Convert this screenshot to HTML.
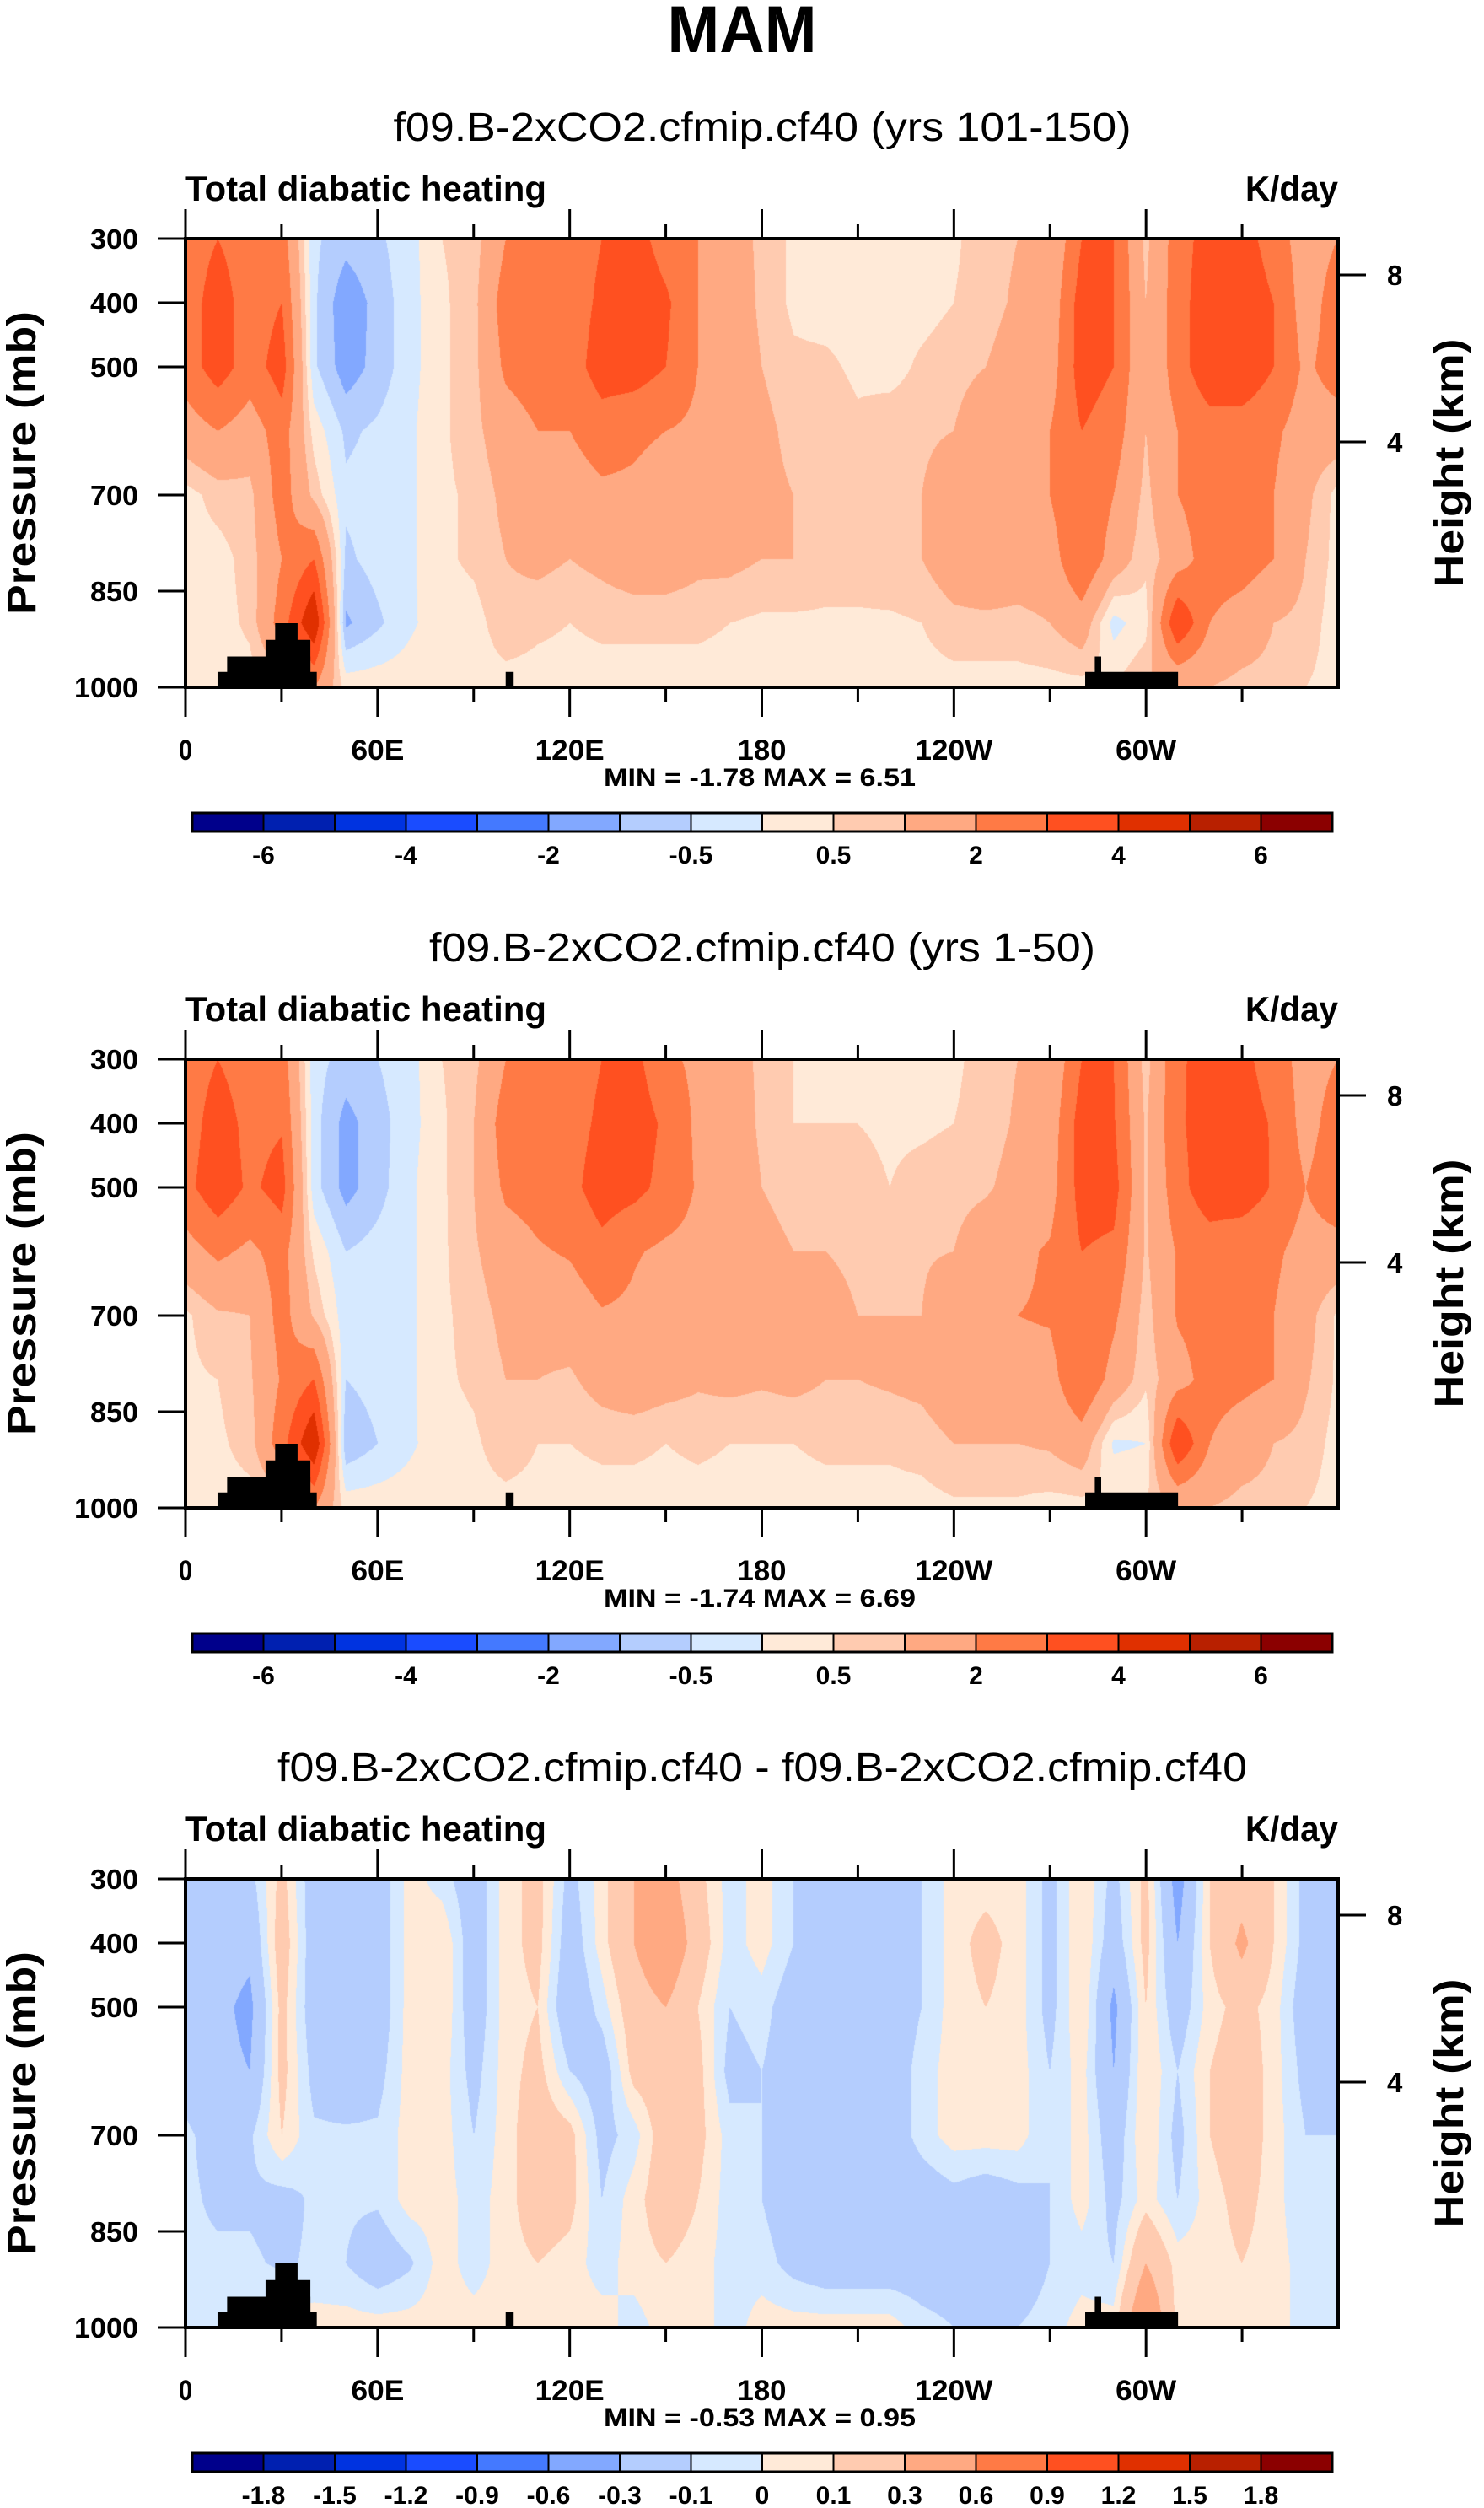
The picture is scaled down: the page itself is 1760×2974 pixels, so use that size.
<!DOCTYPE html>
<html><head><meta charset="utf-8"><style>
html,body{margin:0;padding:0;background:#fff;}
#wrap{position:relative;width:1760px;height:2974px;overflow:hidden;}
canvas{position:absolute;left:220px;}
svg{position:absolute;left:0;top:0;}
text{font-family:"Liberation Sans",sans-serif;}
</style></head><body>
<div id="wrap">
<canvas id="c0" width="1367" height="532" style="top:283px"></canvas>
<canvas id="c1" width="1367" height="532" style="top:1256px"></canvas>
<canvas id="c2" width="1367" height="532" style="top:2228px"></canvas>
<svg id="ov" width="1760" height="2974">
<text x="880" y="62" text-anchor="middle" font-size="79" font-weight="bold" textLength="177" lengthAdjust="spacingAndGlyphs">MAM</text>
</svg>
</div>
<script>
// ---- data ----
const lons = [0,10,20,30,40,50,60,70,80,90,100,110,120,130,140,150,160,170,180,190,200,210,220,230,240,250,260,270,280,290,300,310,320,330,340,350,360];
const levs = [300,400,500,600,700,800,900,1000];
const p1_300 = [2.5,3,2.5,2.5,-0.4,-0.8,-0.6,-0.2,0.5,0.7,2,2.5,2.5,3,3.5,2.5,2,1.5,0.8,0.4,0.3,0.3,0.3,0.3,0.4,0.8,1,1,3,3,0.8,2.5,3.5,3.5,2.5,1.5,2];
const p1_400 = [2.5,3.5,2.5,3,-0.4,-1.4,-0.8,-0.2,0.4,0.8,2.5,2.5,2.5,3.2,3.8,3.2,2,1.8,0.8,0.4,0.3,0.3,0.3,0.3,0.5,0.8,1.1,1.3,3.5,3,1,2.5,3.8,3.8,3,1.5,2.5];
const p1_500 = [2.5,3.5,2.5,3.5,-0.4,-1.3,-0.8,-0.2,0.4,0.8,2.2,2.5,2.5,3.5,3.5,3,2,1.8,1,0.6,0.6,0.4,0.3,0.6,0.8,1,1.3,1.5,3.5,3,1,2.5,3.8,3.8,3,1.8,2.5];
const p1_600 = [1.5,2,1.5,2.5,0.3,-0.6,-0.4,-0.1,0.4,0.8,1.5,2,2,2.5,2.2,2,1.8,1.5,1.2,0.8,0.8,0.6,0.8,0.8,1,1.5,1.8,2,3,2.5,1,2,2.5,2.5,2.2,1.5,1.5];
const p1_700 = [0.3,0.7,0.8,2.5,0.8,-0.4,-0.3,-0.1,0.4,0.6,1.2,1.5,1.5,1.8,1.8,1.5,1.5,1.5,1.2,1,1,0.8,0.8,1,1.8,2,2,2,3,2,0.8,2,2.5,2.5,2,1.2,0.3];
const p1_800 = [0.3,0.3,0.7,2,3,-0.6,-0.3,-0.1,0.4,0.6,1,1.2,1,1.2,1.5,1.5,1.2,1.2,1,1,0.8,0.8,0.9,1,1.5,1.8,1.5,1.5,3,1.5,0.6,1.5,2.5,2.5,2,1,0.3];
const p1_900 = [0.2,0.3,0.6,2.5,5,-1.1,-0.6,-0.1,0.3,0.3,0.8,0.6,0.5,0.6,0.6,0.6,0.6,0.5,0.4,0.4,0.4,0.4,0.4,0.5,0.8,0.8,0.8,1,1.5,-0.2,0.3,4,2,1.5,1,0.8,0.2];
const p1_1000 = [0.3,0.3,0.3,0.3,2,0.3,0.3,0.3,0.3,0.3,0.3,0.3,0.3,0.3,0.3,0.3,0.3,0.3,0.3,0.3,0.3,0.3,0.3,0.3,0.3,0.3,0.3,0.3,0.3,0.5,1,1,1,0.8,0.8,0.5,0.3];

const p2_300 = [2.5,3,2.5,2.5,-0.3,-0.7,-0.5,-0.2,0.5,0.8,2,2.5,2.5,3,3.3,2.2,1.8,1.5,0.8,0.5,0.4,0.4,0.4,0.4,0.4,0.7,1,1.1,3,3,0.7,2.8,3.5,3.3,2.5,1.6,2];
const p2_400 = [2.5,3.5,2.7,2.9,-0.3,-1.2,-0.7,-0.2,0.4,1,2.5,2.4,2.6,3.2,3.6,2.8,1.8,1.8,0.8,0.5,0.5,0.5,0.4,0.4,0.5,0.7,1.1,1.4,3.5,3.1,0.9,2.8,3.6,3.5,2.9,1.6,2.5];
const p2_500 = [2.7,3.7,2.8,3.4,-0.3,-1.2,-0.7,-0.1,0.4,1,2.2,2.4,2.7,3.5,3.3,2.7,1.9,1.9,1,0.7,0.8,0.7,0.5,0.7,0.8,0.9,1.3,1.6,3.4,3.4,0.9,2.6,3.7,3.6,2.9,2,2.7];
const p2_600 = [1.6,2.2,1.8,2.4,0.4,-0.5,-0.3,-0.1,0.4,0.9,1.5,1.9,2.1,2.7,2.1,1.8,1.7,1.6,1.3,1,1,0.9,1,0.9,1,1.5,1.8,2.1,3,2.8,0.9,2.1,2.4,2.3,2.2,1.6,1.6];
const p2_700 = [0.4,0.9,1,2.4,0.9,-0.3,-0.2,-0.1,0.4,0.7,1.2,1.3,1.4,1.9,1.8,1.3,1.4,1.5,1.3,1.2,1.2,1,1,1,1.8,2,2,2.1,3,2.2,0.7,2.1,2.4,2.3,2,1.3,0.4];
const p2_800 = [0.4,0.5,0.9,2.1,3,-0.5,-0.3,-0.1,0.4,0.6,1,1,0.9,1.3,1.5,1.3,1.1,1.2,1.1,1.2,1,1,1.1,1.2,1.6,2,1.6,1.6,3,1.6,0.6,1.6,2.4,2.3,2,1.1,0.4];
const p2_900 = [0.3,0.4,0.7,2.6,5,-0.9,-0.5,-0.1,0.3,0.4,0.8,0.5,0.5,0.6,0.6,0.5,0.6,0.5,0.5,0.5,0.6,0.6,0.6,0.7,1,1,1,1.1,1.5,-0.1,0,4,2,1.4,1,0.8,0.3];
const p2_1000 = [0.3,0.3,0.3,0.3,2,0.3,0.3,0.3,0.3,0.3,0.3,0.3,0.3,0.3,0.3,0.3,0.3,0.3,0.3,0.3,0.3,0.3,0.3,0.3,0.4,0.4,0.4,0.3,0.3,0.5,0.5,1,1,0.8,0.8,0.5,0.3];

const p3_300 = [-0.1,-0.2,-0.15,0.15,-0.2,-0.2,-0.2,0.05,-0.05,-0.2,0.05,0.15,-0.15,0.05,0.3,0.4,0.15,-0.05,0.05,-0.1,-0.2,-0.2,-0.15,-0.1,0.05,0.05,0.05,-0.15,0.1,-0.15,0.15,-0.4,0.1,0.2,0.1,-0.15,-0.1];
const p3_400 = [-0.1,-0.2,-0.25,0.2,-0.2,-0.25,-0.2,0.05,0.1,-0.2,0.05,0.15,-0.2,0.05,0.3,0.5,0.2,-0.05,0.05,-0.1,-0.2,-0.2,-0.15,-0.1,0.05,0.15,0.05,-0.15,0.1,-0.2,0.15,-0.3,0.1,0.35,0.1,-0.15,-0.1];
const p3_500 = [-0.2,-0.25,-0.35,0.15,-0.2,-0.25,-0.2,0.05,0.1,-0.2,0.05,0.1,-0.25,-0.05,0.2,0.3,0.1,-0.1,-0.05,-0.2,-0.2,-0.3,-0.2,-0.1,0.05,0.1,0.05,-0.15,0.1,-0.35,0.1,-0.2,0.05,0.15,0.05,-0.2,-0.2];
const p3_600 = [-0.15,-0.25,-0.3,0.15,-0.15,-0.2,-0.15,0.05,0.05,-0.15,0.05,0.15,-0.1,-0.2,0.15,0.2,0.15,-0.15,-0.1,-0.2,-0.2,-0.3,-0.2,-0.05,0.05,0.05,0.05,-0.1,0.05,-0.3,0.1,-0.1,0.1,0.2,0.05,-0.15,-0.15];
const p3_700 = [-0.08,-0.15,-0.12,0.1,-0.08,-0.08,-0.08,0.05,0.05,-0.1,0.05,0.2,0.15,-0.15,-0.05,0.2,0.15,-0.05,-0.1,-0.15,-0.2,-0.2,-0.2,-0.05,0.05,0.05,0.05,-0.1,0.05,-0.2,0.1,-0.15,0.1,0.2,0.05,-0.1,-0.1];
const p3_800 = [-0.08,-0.12,-0.12,-0.15,-0.08,-0.08,-0.08,0.05,0.05,-0.05,0.05,0.2,0.15,-0.1,0.05,0.2,0.1,-0.05,-0.1,-0.2,-0.2,-0.2,-0.2,-0.2,-0.15,-0.2,-0.15,-0.1,0.05,-0.15,0.05,-0.1,0.05,0.15,0.05,-0.1,-0.1];
const p3_900 = [-0.08,-0.08,-0.08,-0.12,-0.08,-0.1,-0.2,-0.12,0.05,-0.05,0.05,0.1,0.05,-0.05,0.05,0.1,0.05,-0.05,-0.05,-0.15,-0.2,-0.2,-0.2,-0.2,-0.2,-0.2,-0.2,-0.1,-0.05,-0.1,0.3,0.05,0.05,0.1,0.05,-0.05,-0.1];
const p3_1000 = [-0.05,-0.05,0.05,0.05,0.05,0.05,0.05,0.05,0.05,0.05,0.05,0.05,0.05,0.05,-0.05,0.05,0.05,-0.05,0.05,0.05,0.05,0.05,0.05,-0.05,-0.1,-0.1,-0.1,-0.05,0.05,0.05,0.6,0.05,0.05,0.05,0.05,-0.05,-0.05];

const levelsAbs = [-6,-5,-4,-3,-2,-1,-0.5,0,0.5,1,2,3,4,5,6];
const levelsDiff = [-1.8,-1.5,-1.2,-0.9,-0.6,-0.3,-0.1,0,0.1,0.3,0.6,0.9,1.2,1.5,1.8];
const labelsAbs = ["","-6","","-4","","-2","","-0.5","","0.5","","2","","4","","6"];
const labelsDiff = ["","-1.8","-1.5","-1.2","-0.9","-0.6","-0.3","-0.1","0","0.1","0.3","0.6","0.9","1.2","1.5","1.8"];
const colors = ["#00008b","#0020b0","#0033e0","#1a4cff","#4479ff","#82a8ff","#b4cdfe","#d6e9ff","#ffead8","#ffcbb0","#ffa982","#ff7a45","#ff5020","#e03000","#b82000","#8b0000"];
const lonTicks = [0,60,120,180,240,300];
const lonLabels = ["0","60E","120E","180","120W","60W"];
const presTicks = [300,400,500,700,850,1000];
const heightTicks = [8,4];
const topoLonStart = [10,13,25,28,100,281,284];
const topoLonEnd = [41,39,39,35,102.5,310,286];
const topoPTop = [976,952,926,900,976,976,952];
const subtitles = ["f09.B-2xCO2.cfmip.cf40 (yrs 101-150)","f09.B-2xCO2.cfmip.cf40 (yrs 1-50)","f09.B-2xCO2.cfmip.cf40 - f09.B-2xCO2.cfmip.cf40"];
const minmax = ["MIN =  -1.78  MAX =   6.51","MIN =  -1.74  MAX =   6.69","MIN =  -0.53  MAX =   0.95"];

// ---- layout ----
const PX0=220, PW=1367, PH=532;
const tops=[283,1256,2228];
const subW=[875,790,1150];
const xOf = lon => PX0 + lon/360*PW;
const yOf = (p,top) => top + (p-300)/700*PH;
const hOf = (h,top) => top + (h===8?43:241);

function drawField(cv, rows, lev){
  const ctx=cv.getContext('2d');
  const img=ctx.createImageData(PW,PH);
  const rgb=colors.map(c=>[parseInt(c.slice(1,3),16),parseInt(c.slice(3,5),16),parseInt(c.slice(5,7),16)]);
  for(let j=0;j<PH;j++){
    const p=300+j/(PH-1)*700;
    let r=Math.min(levs.length-2,Math.floor((p-300)/100)); const fy=(p-levs[r])/100;
    for(let i=0;i<PW;i++){
      const lon=i/(PW-1)*360;
      let c=Math.min(lons.length-2,Math.floor(lon/10)); const fx=(lon-lons[c])/10;
      const v=(rows[r][c]*(1-fx)+rows[r][c+1]*fx)*(1-fy)+(rows[r+1][c]*(1-fx)+rows[r+1][c+1]*fx)*fy+1e-7;
      let k=0; while(k<lev.length && v>=lev[k]) k++;
      const o=(j*PW+i)*4, col=rgb[k];
      img.data[o]=col[0];img.data[o+1]=col[1];img.data[o+2]=col[2];img.data[o+3]=255;
    }
  }
  ctx.putImageData(img,0,0);
}
drawField(document.getElementById('c0'),[p1_300,p1_400,p1_500,p1_600,p1_700,p1_800,p1_900,p1_1000],levelsAbs);
drawField(document.getElementById('c1'),[p2_300,p2_400,p2_500,p2_600,p2_700,p2_800,p2_900,p2_1000],levelsAbs);
drawField(document.getElementById('c2'),[p3_300,p3_400,p3_500,p3_600,p3_700,p3_800,p3_900,p3_1000],levelsDiff);

const NS='http://www.w3.org/2000/svg';
const svg=document.getElementById('ov');
function mk(tag,attrs,parent,txt){const e=document.createElementNS(NS,tag);for(const k in attrs)e.setAttribute(k,attrs[k]);if(txt!==undefined)e.textContent=txt;(parent||svg).appendChild(e);return e;}

for(let pi=0;pi<3;pi++){
  const top=tops[pi], off=top-283;
  const g=mk('g',{});
  
  
  const st=mk('text',{x:904,y:167+off,'text-anchor':'middle','font-size':48,textLength:subW[pi],lengthAdjust:'spacingAndGlyphs'},g,subtitles[pi]);
  
  
  const lt=mk('text',{x:220,y:238+off,'font-size':42,'font-weight':'bold',textLength:428,lengthAdjust:'spacingAndGlyphs'},g,'Total diabatic heating');
  
  
  const ut=mk('text',{x:1587,y:238+off,'text-anchor':'end','font-size':42,'font-weight':'bold',textLength:110,lengthAdjust:'spacingAndGlyphs'},g,'K/day');
  
  
  for(let t=0;t<topoLonStart.length;t++){
    const r=mk('rect',{x:xOf(topoLonStart[t]),y:yOf(topoPTop[t],top),width:xOf(topoLonEnd[t])-xOf(topoLonStart[t]),height:yOf(1000,top)-yOf(topoPTop[t],top),fill:'#000'},g);
    
    
  }
  const fr=mk('rect',{x:PX0,y:top,width:PW,height:PH,fill:'none',stroke:'#000','stroke-width':4},g);
  
  
  for(let lon=0;lon<=330;lon+=30){
    const major=lon%60===0, L=major?35:17, x=xOf(lon);
    mk('line',{x1:x,y1:top,x2:x,y2:top-L,stroke:'#000','stroke-width':3},g);
    mk('line',{x1:x,y1:top+PH,x2:x,y2:top+PH+L,stroke:'#000','stroke-width':3},g);
  }
  lonTicks.forEach((lon,i)=>{
    const w=[16,63,82,58,92,72][i];
    const t=mk('text',{x:xOf(lon),y:top+PH+86,'text-anchor':'middle','font-size':34,'font-weight':'bold',textLength:w,lengthAdjust:'spacingAndGlyphs'},g,lonLabels[i]);
    
    
  });
  presTicks.forEach(p=>{
    const y=yOf(p,top);
    mk('line',{x1:PX0,y1:y,x2:PX0-33,y2:y,stroke:'#000','stroke-width':3},g);
    const s=String(p);
    const t=mk('text',{x:164,y:y+12,'text-anchor':'end','font-size':33,'font-weight':'bold',textLength:s.length==4?76:57,lengthAdjust:'spacingAndGlyphs'},g,s);
    
    
  });
  heightTicks.forEach(h=>{
    const y=hOf(h,top);
    mk('line',{x1:PX0+PW,y1:y,x2:PX0+PW+33,y2:y,stroke:'#000','stroke-width':3},g);
    const t=mk('text',{x:1645,y:y+12,'font-size':33,'font-weight':'bold'},g,String(h));
    
    
  });
  const ya=mk('text',{x:0,y:0,transform:`translate(42,${top+266}) rotate(-90)`,'text-anchor':'middle','font-size':48,'font-weight':'bold',textLength:360,lengthAdjust:'spacingAndGlyphs'},g,'Pressure (mb)');
  
  
  const ha=mk('text',{x:0,y:0,transform:`translate(1735,${top+266}) rotate(-90)`,'text-anchor':'middle','font-size':48,'font-weight':'bold',textLength:295,lengthAdjust:'spacingAndGlyphs'},g,'Height (km)');
  
  
  const mm=mk('text',{x:901,y:top+PH+117,'text-anchor':'middle','font-size':30,'font-weight':'bold',textLength:370,lengthAdjust:'spacingAndGlyphs','xml:space':'preserve'},g,minmax[pi]);
  
  
  const cbY=964+off, cbX=228, cbW=1352, bw=cbW/16;
  const labs=pi==2?labelsDiff:labelsAbs;
  for(let k=0;k<16;k++){
    const r=mk('rect',{x:cbX+k*bw,y:cbY,width:bw,height:22,fill:colors[k],stroke:'#000','stroke-width':2},g);
    
    
    if(labs[k]){
      const t=mk('text',{x:cbX+k*bw,y:cbY+60,'text-anchor':'middle','font-size':30,'font-weight':'bold'},g,labs[k]);
      
      
    }
  }
  const cbf=mk('rect',{x:cbX,y:cbY,width:cbW,height:22,fill:'none',stroke:'#000','stroke-width':3},g);
  
  
}
</script>
</body></html>
